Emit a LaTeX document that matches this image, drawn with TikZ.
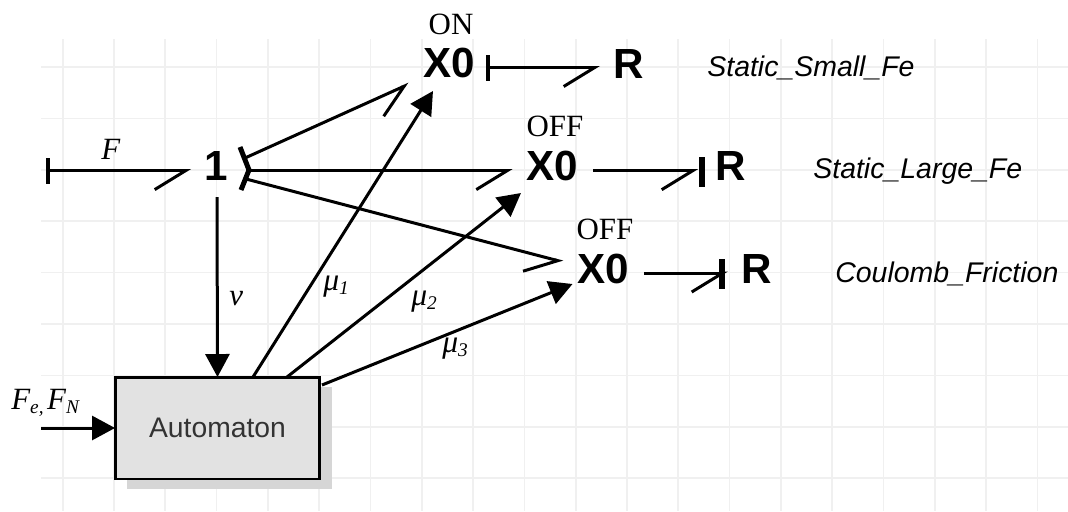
\documentclass[tikz,border=0pt]{standalone}
\usepackage{fontspec}
\setmainfont{Liberation Serif}
\setsansfont{Liberation Sans}
\usetikzlibrary{arrows.meta,calc,shadows}

\definecolor{gridgray}{HTML}{F0F0F0}
\definecolor{boxgray}{HTML}{E2E2E2}
\definecolor{shadowgray}{HTML}{D6D6D6}

\tikzset{
  halfbarb/.tip={Straight Barb[length=.62cm,width=.76cm,harpoon,swap]},
  tri/.tip={Triangle[length=.46cm,width=.48cm]},
  elem/.style={inner sep=0pt, outer sep=0pt, font=\sffamily\bfseries\fontsize{24}{24}\selectfont},
  statetxt/.style={inner sep=0pt, font=\fontsize{17.6}{18}\selectfont},
  nametxt/.style={inner sep=0pt, anchor=base west, font=\sffamily\itshape\fontsize{16.2}{18}\selectfont},
  symtxt/.style={inner sep=0pt, anchor=base west, font=\itshape\fontsize{17.6}{18}\selectfont},
  mutxt/.style={inner sep=0pt, anchor=base west, font=\itshape\fontsize{18}{18}\selectfont},
  bond/.style={line width=.06cm, -halfbarb},
  startbond/.style={line width=.06cm, {Bar[width=.52cm,line width=.08cm]}-halfbarb},
  signal/.style={line width=.06cm, -tri},
  causal/.style={line width=.13cm},
}
\newcommand{\lowidx}[1]{\raisebox{-2.6pt}{\fontsize{11}{12}\selectfont #1}}

\begin{document}
\begin{tikzpicture}[x=.02cm, y=-.02cm]
\useasboundingbox (0, 0) rectangle (1068, 511);

% grid
\foreach \i in {0,...,19}
    \draw [gridgray, line width=.035cm] ({62.7+51.3*\i}, 39) -- ({62.7+51.3*\i}, 511);
\foreach \j in {0,...,8}
    \draw [gridgray, line width=.035cm] (41, {67+51.4*\j}) -- (1068, {67+51.4*\j});

\node [elem] at (216, 166) (ONE) {1};
\node [elem] at (449, 63) (X0_ON) {X0};
\node [elem] at (552, 166) (X0_OFFA) {X0};
\node [elem] at (603, 269) (X0_OFFB) {X0};
\node [elem] at (628.5, 63.5) (R_ON) {R};
\node [elem] at (731, 166) (R_OFFA) {R};
\node [elem] at (757, 269) (R_OFFB) {R};

\node [statetxt] at (451, 24) (ON_TXT) {ON};
\node [statetxt] at (555, 126) (OFFA_TXT) {OFF};
\node [statetxt] at (605, 229) (OFFB_TXT) {OFF};

\node [nametxt] at (707, 76) (SMALL_TXT) {Static\_Small\_Fe};
\node [nametxt] at (813, 178) (LARGE_TXT) {Static\_Large\_Fe};
\node [nametxt] at (835, 282) (COULOMB_TXT) {Coulomb\_Friction};

\node [symtxt] at (101, 159) (F_TXT) {F};
\node [symtxt] at (229, 305) (V_TXT) {v};
\node [symtxt] at (11, 409) (FE_TXT) {F\lowidx{e,}\hspace{2pt}F\lowidx{N}};
\node [mutxt] at (323, 290) (MU_A) {μ\lowidx{1}};
\node [mutxt] at (411, 305) (MU_B) {μ\lowidx{2}};
\node [mutxt] at (442, 352) (MU_C) {μ\lowidx{3}};

\node [draw, line width=.06cm, fill=boxgray, minimum width=4.1cm, minimum height=2.04cm,
    outer sep=0pt, inner sep=0pt, font=\sffamily\fontsize{16.1}{18}\selectfont, text=black!80,
    drop shadow={shadow xshift=.24cm, shadow yshift=-.2cm, fill=shadowgray, opacity=1}]
    at (217.5, 428) (AUTO) {Automaton};

\coordinate (F_IN) at (46, 170.6);
\coordinate (FE_IN) at (41, 428);

\draw [startbond] (F_IN) -- ($(ONE)+(-25,4.6)$);
\draw [line width=.1cm] ($(ONE)+(24,-19)$) -- ($(ONE)+(33,4)$) -- ($(ONE)+(25,24)$);

% bonds to the zero junctions
\draw [bond] ($(ONE)+(29,-8)$) -- ($(X0_ON)+(-40,21)$);
\draw [bond] ($(ONE)+(34,4.6)$) -- ($(X0_OFFA)+(-39.4,4.6)$);
\draw [bond] ($(ONE)+(30,13)$) -- ($(X0_OFFB)+(-40,-7)$);

% bonds to the resistors
\draw [startbond] ($(X0_ON)+(37,4.5)$) -- ($(R_ON)+(-28.5,4)$);
\draw [bond] ($(X0_OFFA)+(41,4.7)$) -- ($(R_OFFA)+(-33,4.7)$);
\draw [causal] ($(R_OFFA)+(-29,-9)$) -- ($(R_OFFA)+(-29,21)$);
\draw [bond] ($(X0_OFFB)+(41,4)$) -- ($(R_OFFB)+(-29,4)$);
\draw [causal] ($(R_OFFB)+(-35,-10)$) -- ($(R_OFFB)+(-35,20)$);

% signals
\draw [signal] ($(ONE)+(1,31)$) -- (AUTO.north);
\draw [signal] (FE_IN) -- (AUTO.west);
\draw [signal] ($(AUTO.north west)+(138,0)$) -- ($(X0_ON)+(-16,28)$);
\draw [signal] ($(AUTO.north west)+(172,0)$) -- ($(X0_OFFA)+(-31,27)$);
\draw [signal] ($(AUTO.north east)+(2,8)$) -- ($(X0_OFFB)+(-30.5,15)$);
\end{tikzpicture}
\end{document}
